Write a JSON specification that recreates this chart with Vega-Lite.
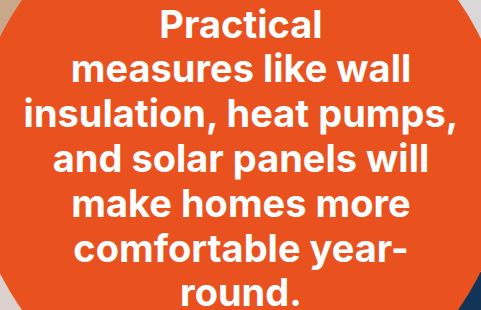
{
  "$schema": "https://vega.github.io/schema/vega-lite/v6.json",
  "width": 481,
  "height": 310,
  "padding": 0,
  "autosize": {"type": "none"},
  "background": "#d9d7d8",
  "config": {"view": {"stroke": null}},
  "datasets": {
    "regions": [
      {"region": "tan", "x": 0, "x2": 60, "y": 0, "y2": 150},
      {"region": "pale", "x": 0, "x2": 60, "y": 150, "y2": 310},
      {"region": "navy", "x": 430, "x2": 481, "y": 272, "y2": 310}
    ],
    "disc": [{"cx": 240, "cy": 155}],
    "lines": [
      {"line": 1, "text": "Practical", "x": 241, "y": 38},
      {"line": 2, "text": "measures like wall", "x": 241, "y": 82},
      {"line": 3, "text": "insulation, heat pumps,", "x": 241, "y": 127},
      {"line": 4, "text": "and solar panels will", "x": 241, "y": 172},
      {"line": 5, "text": "make homes more", "x": 241, "y": 217},
      {"line": 6, "text": "comfortable year-", "x": 241, "y": 262},
      {"line": 7, "text": "round.", "x": 241, "y": 306}
    ]
  },
  "layer": [
    {
      "data": {"name": "regions"},
      "mark": {"type": "rect"},
      "encoding": {
        "x": {"field": "x", "type": "quantitative", "scale": {"domain": [0, 481], "nice": false}, "axis": null},
        "x2": {"field": "x2"},
        "y": {"field": "y", "type": "quantitative", "scale": {"domain": [0, 310], "reverse": true, "nice": false}, "axis": null},
        "y2": {"field": "y2"},
        "color": {"field": "region", "type": "nominal", "scale": {"domain": ["tan", "pale", "navy"], "range": ["#c9a889", "#dcd1cc", "#123456"]}, "legend": null}
      }
    },
    {
      "data": {"name": "disc"},
      "mark": {"type": "point", "shape": "circle", "filled": true, "opacity": 1, "color": "#e9511e", "size": 286225},
      "encoding": {
        "x": {"field": "cx", "type": "quantitative"},
        "y": {"field": "cy", "type": "quantitative"}
      }
    },
    {
      "data": {"name": "lines"},
      "mark": {"type": "text", "font": "Inter", "fontWeight": "bold", "fontSize": 38, "color": "white", "align": "center", "baseline": "alphabetic"},
      "encoding": {
        "x": {"field": "x", "type": "quantitative"},
        "y": {"field": "y", "type": "quantitative"},
        "text": {"field": "text"}
      }
    }
  ]
}
